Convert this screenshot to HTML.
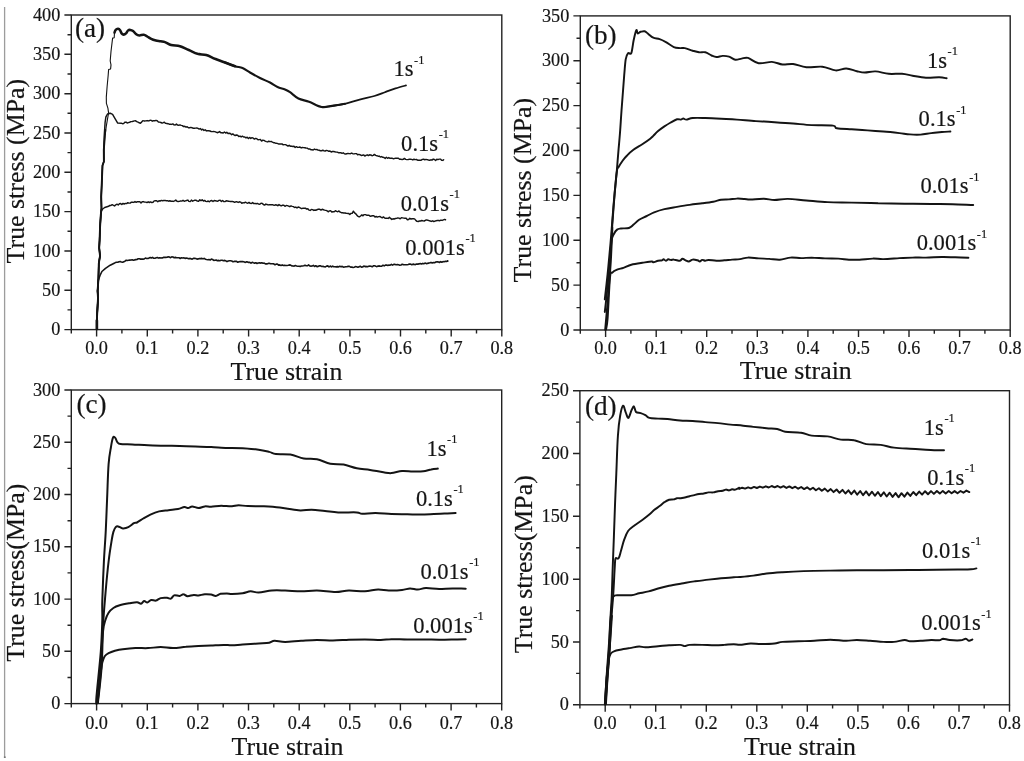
<!DOCTYPE html>
<html lang="en"><head><meta charset="utf-8"><title>True stress-strain curves</title>
<style>html,body{margin:0;padding:0;background:#fff}body{width:1024px;height:761px;overflow:hidden}svg{display:block;filter:blur(0.45px)}</style>
</head><body>
<svg width="1024" height="761" viewBox="0 0 1024 761" font-family="'Liberation Serif', serif" fill="#141414" stroke="#141414" stroke-width="0.18" paint-order="stroke">
<rect width="1024" height="761" fill="#ffffff" stroke="none"/>
<line x1="4.6" y1="7" x2="4.6" y2="757.8" stroke="#9c9c9c" stroke-width="1.3"/>
<rect x="3.9" y="756.5" width="1.8" height="1.4" fill="#6f6f6f" stroke="none"/>
<g id="panel-a">
<rect x="71.3" y="15.0" width="430.5" height="314.6" fill="none" stroke="#222222" stroke-width="1.40"/>
<text x="96.6" y="354.2" font-size="18.2" text-anchor="middle" >0.0</text>
<text x="147.3" y="354.2" font-size="18.2" text-anchor="middle" >0.1</text>
<text x="197.9" y="354.2" font-size="18.2" text-anchor="middle" >0.2</text>
<text x="248.6" y="354.2" font-size="18.2" text-anchor="middle" >0.3</text>
<text x="299.2" y="354.2" font-size="18.2" text-anchor="middle" >0.4</text>
<text x="349.9" y="354.2" font-size="18.2" text-anchor="middle" >0.5</text>
<text x="400.5" y="354.2" font-size="18.2" text-anchor="middle" >0.6</text>
<text x="451.2" y="354.2" font-size="18.2" text-anchor="middle" >0.7</text>
<text x="501.8" y="354.2" font-size="18.2" text-anchor="middle" >0.8</text>
<text x="60.3" y="335.2" font-size="18.2" text-anchor="end" >0</text>
<text x="60.3" y="295.9" font-size="18.2" text-anchor="end" >50</text>
<text x="60.3" y="256.6" font-size="18.2" text-anchor="end" >100</text>
<text x="60.3" y="217.2" font-size="18.2" text-anchor="end" >150</text>
<text x="60.3" y="177.9" font-size="18.2" text-anchor="end" >200</text>
<text x="60.3" y="138.6" font-size="18.2" text-anchor="end" >250</text>
<text x="60.3" y="99.2" font-size="18.2" text-anchor="end" >300</text>
<text x="60.3" y="59.9" font-size="18.2" text-anchor="end" >350</text>
<text x="60.3" y="20.6" font-size="18.2" text-anchor="end" >400</text>
<path d="M71.3 329.6v3.8 M96.6 329.6v6.9 M121.9 329.6v3.8 M147.3 329.6v6.9 M172.6 329.6v3.8 M197.9 329.6v6.9 M223.2 329.6v3.8 M248.6 329.6v6.9 M273.9 329.6v3.8 M299.2 329.6v6.9 M324.5 329.6v3.8 M349.9 329.6v6.9 M375.2 329.6v3.8 M400.5 329.6v6.9 M425.8 329.6v3.8 M451.2 329.6v6.9 M476.5 329.6v3.8 M501.8 329.6v6.9 M71.3 329.6h-6.9 M71.3 309.9h-3.8 M71.3 290.3h-6.9 M71.3 270.6h-3.8 M71.3 251.0h-6.9 M71.3 231.3h-3.8 M71.3 211.6h-6.9 M71.3 192.0h-3.8 M71.3 172.3h-6.9 M71.3 152.6h-3.8 M71.3 133.0h-6.9 M71.3 113.3h-3.8 M71.3 93.7h-6.9 M71.3 74.0h-3.8 M71.3 54.3h-6.9 M71.3 34.7h-3.8 M71.3 15.0h-6.9" stroke="#222222" stroke-width="1.40" fill="none"/>
<text x="75.0" y="37.1" font-size="27.2" text-anchor="start" >(a)</text>
<text x="286.5" y="379.8" font-size="25.9" text-anchor="middle" >True strain</text>
<text transform="translate(24.2 171.1) rotate(-90)" font-size="25.9" text-anchor="middle">True stress (MPa)</text>
</g>
<g id="panel-b">
<rect x="580.3" y="15.9" width="429.9" height="314.1" fill="none" stroke="#222222" stroke-width="1.40"/>
<text x="605.6" y="354.3" font-size="18.2" text-anchor="middle" >0.0</text>
<text x="656.2" y="354.3" font-size="18.2" text-anchor="middle" >0.1</text>
<text x="706.7" y="354.3" font-size="18.2" text-anchor="middle" >0.2</text>
<text x="757.3" y="354.3" font-size="18.2" text-anchor="middle" >0.3</text>
<text x="807.9" y="354.3" font-size="18.2" text-anchor="middle" >0.4</text>
<text x="858.5" y="354.3" font-size="18.2" text-anchor="middle" >0.5</text>
<text x="909.0" y="354.3" font-size="18.2" text-anchor="middle" >0.6</text>
<text x="959.6" y="354.3" font-size="18.2" text-anchor="middle" >0.7</text>
<text x="1010.2" y="354.3" font-size="18.2" text-anchor="middle" >0.8</text>
<text x="569.3" y="335.6" font-size="18.2" text-anchor="end" >0</text>
<text x="569.3" y="290.7" font-size="18.2" text-anchor="end" >50</text>
<text x="569.3" y="245.9" font-size="18.2" text-anchor="end" >100</text>
<text x="569.3" y="201.0" font-size="18.2" text-anchor="end" >150</text>
<text x="569.3" y="156.1" font-size="18.2" text-anchor="end" >200</text>
<text x="569.3" y="111.2" font-size="18.2" text-anchor="end" >250</text>
<text x="569.3" y="66.4" font-size="18.2" text-anchor="end" >300</text>
<text x="569.3" y="21.5" font-size="18.2" text-anchor="end" >350</text>
<path d="M580.3 330.0v3.8 M605.6 330.0v6.9 M630.9 330.0v3.8 M656.2 330.0v6.9 M681.5 330.0v3.8 M706.7 330.0v6.9 M732.0 330.0v3.8 M757.3 330.0v6.9 M782.6 330.0v3.8 M807.9 330.0v6.9 M833.2 330.0v3.8 M858.5 330.0v6.9 M883.8 330.0v3.8 M909.0 330.0v6.9 M934.3 330.0v3.8 M959.6 330.0v6.9 M984.9 330.0v3.8 M1010.2 330.0v6.9 M580.3 330.0h-6.9 M580.3 307.6h-3.8 M580.3 285.1h-6.9 M580.3 262.7h-3.8 M580.3 240.3h-6.9 M580.3 217.8h-3.8 M580.3 195.4h-6.9 M580.3 172.9h-3.8 M580.3 150.5h-6.9 M580.3 128.1h-3.8 M580.3 105.6h-6.9 M580.3 83.2h-3.8 M580.3 60.8h-6.9 M580.3 38.3h-3.8 M580.3 15.9h-6.9" stroke="#222222" stroke-width="1.40" fill="none"/>
<text x="584.9" y="44.1" font-size="27.2" text-anchor="start" >(b)</text>
<text x="795.8" y="379.3" font-size="25.9" text-anchor="middle" >True strain</text>
<text transform="translate(531.4 190.1) rotate(-90)" font-size="25.9" text-anchor="middle">True stress (MPa)</text>
</g>
<g id="panel-c">
<rect x="71.3" y="390.0" width="430.4" height="313.6" fill="none" stroke="#222222" stroke-width="1.40"/>
<text x="96.6" y="729.0" font-size="18.2" text-anchor="middle" >0.0</text>
<text x="147.3" y="729.0" font-size="18.2" text-anchor="middle" >0.1</text>
<text x="197.9" y="729.0" font-size="18.2" text-anchor="middle" >0.2</text>
<text x="248.5" y="729.0" font-size="18.2" text-anchor="middle" >0.3</text>
<text x="299.2" y="729.0" font-size="18.2" text-anchor="middle" >0.4</text>
<text x="349.8" y="729.0" font-size="18.2" text-anchor="middle" >0.5</text>
<text x="400.4" y="729.0" font-size="18.2" text-anchor="middle" >0.6</text>
<text x="451.1" y="729.0" font-size="18.2" text-anchor="middle" >0.7</text>
<text x="501.7" y="729.0" font-size="18.2" text-anchor="middle" >0.8</text>
<text x="60.3" y="709.2" font-size="18.2" text-anchor="end" >0</text>
<text x="60.3" y="656.9" font-size="18.2" text-anchor="end" >50</text>
<text x="60.3" y="604.7" font-size="18.2" text-anchor="end" >100</text>
<text x="60.3" y="552.4" font-size="18.2" text-anchor="end" >150</text>
<text x="60.3" y="500.1" font-size="18.2" text-anchor="end" >200</text>
<text x="60.3" y="447.9" font-size="18.2" text-anchor="end" >250</text>
<text x="60.3" y="395.6" font-size="18.2" text-anchor="end" >300</text>
<path d="M71.3 703.6v3.8 M96.6 703.6v6.9 M121.9 703.6v3.8 M147.3 703.6v6.9 M172.6 703.6v3.8 M197.9 703.6v6.9 M223.2 703.6v3.8 M248.5 703.6v6.9 M273.8 703.6v3.8 M299.2 703.6v6.9 M324.5 703.6v3.8 M349.8 703.6v6.9 M375.1 703.6v3.8 M400.4 703.6v6.9 M425.7 703.6v3.8 M451.1 703.6v6.9 M476.4 703.6v3.8 M501.7 703.6v6.9 M71.3 703.6h-6.9 M71.3 677.5h-3.8 M71.3 651.3h-6.9 M71.3 625.2h-3.8 M71.3 599.1h-6.9 M71.3 572.9h-3.8 M71.3 546.8h-6.9 M71.3 520.7h-3.8 M71.3 494.5h-6.9 M71.3 468.4h-3.8 M71.3 442.3h-6.9 M71.3 416.1h-3.8 M71.3 390.0h-6.9" stroke="#222222" stroke-width="1.40" fill="none"/>
<text x="76.5" y="413.4" font-size="27.2" text-anchor="start" >(c)</text>
<text x="287.6" y="755.3" font-size="25.9" text-anchor="middle" >True strain</text>
<text transform="translate(23.5 572.6) rotate(-90)" font-size="25.9" text-anchor="middle">True stress(MPa)</text>
</g>
<g id="panel-d">
<rect x="579.9" y="390.7" width="429.6" height="314.1" fill="none" stroke="#222222" stroke-width="1.40"/>
<text x="605.2" y="729.4" font-size="18.2" text-anchor="middle" >0.0</text>
<text x="655.7" y="729.4" font-size="18.2" text-anchor="middle" >0.1</text>
<text x="706.3" y="729.4" font-size="18.2" text-anchor="middle" >0.2</text>
<text x="756.8" y="729.4" font-size="18.2" text-anchor="middle" >0.3</text>
<text x="807.3" y="729.4" font-size="18.2" text-anchor="middle" >0.4</text>
<text x="857.9" y="729.4" font-size="18.2" text-anchor="middle" >0.5</text>
<text x="908.4" y="729.4" font-size="18.2" text-anchor="middle" >0.6</text>
<text x="959.0" y="729.4" font-size="18.2" text-anchor="middle" >0.7</text>
<text x="1009.5" y="729.4" font-size="18.2" text-anchor="middle" >0.8</text>
<text x="568.9" y="710.4" font-size="18.2" text-anchor="end" >0</text>
<text x="568.9" y="647.6" font-size="18.2" text-anchor="end" >50</text>
<text x="568.9" y="584.8" font-size="18.2" text-anchor="end" >100</text>
<text x="568.9" y="521.9" font-size="18.2" text-anchor="end" >150</text>
<text x="568.9" y="459.1" font-size="18.2" text-anchor="end" >200</text>
<text x="568.9" y="396.3" font-size="18.2" text-anchor="end" >250</text>
<path d="M579.9 704.8v3.8 M605.2 704.8v6.9 M630.4 704.8v3.8 M655.7 704.8v6.9 M681.0 704.8v3.8 M706.3 704.8v6.9 M731.5 704.8v3.8 M756.8 704.8v6.9 M782.1 704.8v3.8 M807.3 704.8v6.9 M832.6 704.8v3.8 M857.9 704.8v6.9 M883.1 704.8v3.8 M908.4 704.8v6.9 M933.7 704.8v3.8 M959.0 704.8v6.9 M984.2 704.8v3.8 M1009.5 704.8v6.9 M579.9 704.8h-6.9 M579.9 673.4h-3.8 M579.9 642.0h-6.9 M579.9 610.6h-3.8 M579.9 579.2h-6.9 M579.9 547.8h-3.8 M579.9 516.3h-6.9 M579.9 484.9h-3.8 M579.9 453.5h-6.9 M579.9 422.1h-3.8 M579.9 390.7h-6.9" stroke="#222222" stroke-width="1.40" fill="none"/>
<text x="584.9" y="415.2" font-size="27.2" text-anchor="start" >(d)</text>
<text x="800.1" y="755.3" font-size="25.9" text-anchor="middle" >True strain</text>
<text transform="translate(531.8 564.2) rotate(-90)" font-size="25.9" text-anchor="middle">True stress(MPa)</text>
</g>
<polyline points="96.8,329.0 96.8,321.5 97.6,305.8 98.0,298.0 97.6,291.0 98.4,279.4 98.8,263.6 100.0,255.8 99.2,247.9 99.6,240.0 100.0,228.3 100.8,214.9 101.5,208.6 101.2,196.8 101.7,185.0 102.5,165.5 103.9,161.5 103.8,149.7 105.3,130.0 105.1,134.9 106.3,126.2 107.5,119.1 108.6,112.8 107.9,108.1 106.4,103.4 106.3,97.1 107.1,86.8 108.2,75.0 108.6,69.6 110.6,68.9 111.0,64.9 110.2,61.0 111.0,51.5 112.6,38.1 114.2,37.7 114.5,32.6" fill="none" stroke="#141414" stroke-width="1.10" stroke-linejoin="round" stroke-linecap="round" />
<polyline points="96.8,329.0 96.8,321.5 97.6,305.8 98.0,298.0 97.6,291.0 98.4,279.4 98.8,263.6 100.0,255.8 99.2,247.9 99.6,240.0 100.0,228.3 100.8,214.9 101.5,208.6 101.2,196.8 101.7,185.0 102.5,165.5 103.9,161.5 103.8,149.7 105.3,130.0" fill="none" stroke="#141414" stroke-width="1.90" stroke-linejoin="round" stroke-linecap="round" />
<path d="M114.5 32.6C114.7 32.1 115.1 30.5 115.7 29.9C116.3 29.2 117.4 28.6 118.1 28.7C118.8 28.8 119.5 29.4 120.1 30.2C120.7 31.0 121.0 32.7 121.6 33.4C122.2 34.1 122.9 34.6 123.6 34.6C124.3 34.6 125.3 34.1 126.0 33.4C126.7 32.7 127.2 31.2 127.9 30.6C128.6 30.0 129.4 29.8 130.3 29.9C131.2 30.0 132.1 30.3 133.1 31.0C134.1 31.7 135.1 33.5 136.2 34.2C137.2 34.9 138.2 35.3 139.4 35.4C140.7 35.5 142.4 34.6 143.7 34.8C145.0 35.0 146.1 35.8 147.3 36.5C148.6 37.2 149.8 38.2 151.2 38.9C152.6 39.6 154.3 40.1 155.9 40.5C157.5 40.9 159.1 41.0 160.6 41.3C162.1 41.6 163.2 41.5 165.0 42.1C166.8 42.7 168.8 44.3 171.2 45.0C173.8 45.7 177.1 45.4 180.0 46.2C182.9 47.1 185.8 48.8 188.8 50.0C191.7 51.2 194.6 52.9 197.5 53.8C200.4 54.6 203.3 54.2 206.2 55.0C209.2 55.8 211.9 57.5 215.0 58.8C218.1 60.0 221.7 61.2 225.0 62.5C228.3 63.8 233.3 65.6 235.0 66.2" fill="none" stroke="#141414" stroke-width="2.55" stroke-linejoin="round" stroke-linecap="round"/>
<path d="M225.0 62.5C226.7 63.1 232.1 65.3 235.0 66.2C237.9 67.2 240.0 67.0 242.5 68.0C245.0 69.0 247.1 70.8 250.0 72.5C252.9 74.2 256.7 76.3 260.0 78.0C263.3 79.7 267.1 81.0 270.0 82.5C272.9 84.0 275.0 85.8 277.5 87.0C280.0 88.2 282.9 88.6 285.0 89.5C287.1 90.4 287.8 90.7 290.0 92.2C292.2 93.7 295.2 96.9 298.4 98.5C301.6 100.1 305.1 100.3 309.0 101.7C312.9 103.1 317.7 106.3 321.6 107.0C325.5 107.7 328.3 106.4 332.2 105.9C336.1 105.4 342.8 104.2 344.9 103.8" fill="none" stroke="#141414" stroke-width="2.10" stroke-linejoin="round" stroke-linecap="round"/>
<path d="M321.6 107.0C323.4 106.8 328.3 106.4 332.2 105.9C336.1 105.4 340.3 104.8 344.9 103.8C349.5 102.8 354.7 100.9 359.6 99.6C364.5 98.3 370.2 97.2 374.4 96.0C378.6 94.8 381.4 93.5 384.9 92.2C388.4 90.9 392.0 89.5 395.5 88.4C399.0 87.3 404.2 85.9 406.0 85.4" fill="none" stroke="#141414" stroke-width="1.75" stroke-linejoin="round" stroke-linecap="round"/>
<polyline points="96.8,329.0 96.8,321.5 97.6,305.8 98.0,298.0 97.6,291.0 98.4,279.4 98.8,263.6 100.0,255.8 99.2,247.9 99.6,240.0 100.0,228.3 100.8,214.9 101.5,208.6 101.2,196.8 101.7,185.0 102.5,165.5 103.9,161.5 103.8,149.7 104.3,134.9 105.1,122.3 105.9,116.8 107.5,114.0 110.2,113.2 112.6,114.4 114.9,118.3 117.7,123.1 121.2,123.2 122.4,123.7 123.6,123.6 124.8,122.2 126.0,122.1 127.2,123.0 128.4,122.6 129.6,122.3 130.8,121.6 132.0,121.6 133.2,121.2 134.4,120.9 135.6,120.8 136.8,121.7 138.0,122.2 139.2,122.8 140.4,123.2 141.6,122.1 142.8,120.8 144.0,120.9 145.2,120.9 146.4,120.8 147.6,120.6 148.8,120.9 150.0,120.3 151.2,120.4 152.4,121.2 153.6,120.7 154.8,120.8 156.0,120.4 157.2,120.8 158.4,122.0 159.6,122.1 160.8,122.5 162.0,123.0 163.2,122.7 164.4,122.2 165.6,123.4 166.8,123.5 168.0,123.7 169.2,124.2 170.4,124.2 171.6,124.4 172.8,123.9 174.0,124.9 175.2,125.0 176.4,124.1 177.6,125.1 178.8,125.2 180.0,124.9 181.2,125.4 182.4,125.6 183.6,126.6 184.8,126.3 186.0,127.1 187.2,126.7 188.4,127.7 189.6,127.8 190.8,127.4 192.0,127.7 193.2,128.3 194.4,128.2 195.6,128.1 196.8,128.0 198.0,128.4 199.2,129.1 200.4,128.6 201.6,129.9 202.8,129.2 204.0,130.4 205.2,129.8 206.4,130.9 207.6,130.8 208.8,130.8 210.0,131.0 211.2,131.5 212.4,131.6 213.6,131.5 214.8,131.6 216.0,132.1 217.2,132.7 218.4,132.3 219.6,131.6 220.8,132.7 222.0,132.7 223.2,133.0 224.4,132.0 225.6,133.0 226.8,132.3 228.0,133.5 229.2,133.2 230.4,133.5 231.6,134.7 232.8,133.9 234.0,134.8 235.2,135.5 236.4,135.0 237.6,135.2 238.8,136.5 240.0,136.1 241.2,136.9 242.4,136.2 243.6,137.0 244.8,137.0 246.0,137.9 247.2,137.2 248.4,138.6 249.6,137.4 250.8,138.5 252.0,137.7 253.2,138.2 254.4,139.1 255.6,138.4 256.8,138.8 258.0,139.8 259.2,139.6 260.4,139.5 261.6,141.1 262.8,140.2 264.0,140.4 265.2,141.1 266.4,141.6 267.6,141.9 268.8,141.2 270.0,141.6 271.2,141.4 272.4,142.1 273.6,142.7 274.8,142.8 276.0,143.3 277.2,143.4 278.4,143.9 279.6,143.9 280.8,143.9 282.0,143.9 283.2,144.8 284.4,144.6 285.6,144.6 286.8,145.3 288.0,146.1 289.2,145.3 290.4,146.2 291.6,146.1 292.8,146.5 294.0,146.2 295.2,147.5 296.4,146.7 297.6,147.4 298.8,147.3 300.0,147.0 301.2,147.9 302.4,147.5 303.6,147.6 304.8,147.7 306.0,148.0 307.2,148.1 308.4,149.0 309.6,148.9 310.8,149.7 312.0,149.8 313.2,150.0 314.4,149.1 315.6,149.6 316.8,149.5 318.0,150.1 319.2,150.3 320.4,150.7 321.6,150.7 322.8,150.3 324.0,150.7 325.2,151.0 326.4,150.4 327.6,150.6 328.8,151.3 330.0,151.0 331.2,152.0 332.4,151.5 333.6,151.5 334.8,151.8 336.0,152.0 337.2,152.1 338.4,152.7 339.6,152.8 340.8,152.7 342.0,153.3 343.2,152.8 344.4,153.8 345.6,154.0 346.8,153.7 348.0,153.4 349.2,153.6 350.4,153.7 351.6,153.1 352.8,153.7 354.0,153.9 355.2,153.6 356.4,153.6 357.6,154.8 358.8,154.4 360.0,154.7 361.2,155.5 362.4,155.2 363.6,154.9 364.8,156.0 366.0,155.3 367.2,154.8 368.4,155.6 369.6,154.8 370.8,155.0 372.0,155.7 373.2,155.4 374.4,154.4 375.6,155.4 376.8,155.7 378.0,156.2 379.2,156.1 380.4,157.0 381.6,156.6 382.8,157.3 384.0,157.5 385.2,158.4 386.4,157.3 387.6,158.3 388.8,157.6 390.0,158.3 391.2,158.1 392.4,158.3 393.6,158.8 394.8,158.4 396.0,158.1 397.2,158.2 398.4,158.2 399.6,159.3 400.8,159.1 402.0,159.6 403.2,159.3 404.4,158.4 405.6,159.4 406.8,159.6 408.0,159.6 409.2,159.3 410.4,159.2 411.6,159.4 412.8,159.9 414.0,159.2 415.2,159.6 416.4,159.5 417.6,160.2 418.8,160.1 420.0,160.3 421.2,160.2 422.4,159.4 423.6,159.3 424.8,159.7 426.0,159.4 427.2,159.6 428.4,160.0 429.6,160.3 430.8,159.8 432.0,160.1 433.2,159.1 434.4,159.5 435.6,160.4 436.8,159.2 438.0,159.6 439.2,159.1 440.4,159.1 441.6,160.3 442.8,160.4 443.6,159.7" fill="none" stroke="#141414" stroke-width="1.45" stroke-linejoin="round" stroke-linecap="round" />
<polyline points="96.8,329.0 96.8,321.5 97.6,305.8 98.0,298.0 97.6,291.0 98.4,279.4 98.8,263.6 100.0,255.8 99.2,247.9 99.6,240.0 100.0,228.3 100.8,214.9 101.5,208.6 101.5,211.0 102.7,209.0 104.7,207.5 108.6,206.3 109.8,205.4 111.0,205.4 112.2,204.7 113.4,205.3 114.6,205.9 115.8,204.8 117.0,204.2 118.2,205.0 119.4,203.8 120.6,203.5 121.8,204.5 123.0,203.4 124.2,204.0 125.4,203.4 126.6,203.6 127.8,202.7 129.0,203.1 130.2,203.1 131.4,202.2 132.6,202.3 133.8,202.4 135.0,201.6 136.2,202.3 137.4,201.7 138.6,201.7 139.8,201.8 141.0,202.9 142.2,201.7 143.4,201.6 144.6,202.1 145.8,202.1 147.0,202.6 148.2,201.8 149.4,202.5 150.6,201.9 151.8,202.6 153.0,202.3 154.2,200.9 155.4,200.8 156.6,200.7 157.8,201.8 159.0,200.8 160.2,201.0 161.4,200.4 162.6,200.7 163.8,200.5 165.0,200.4 166.2,200.7 167.4,200.7 168.6,201.2 169.8,200.8 171.0,201.2 172.2,201.1 173.4,201.4 174.6,200.9 175.8,200.1 177.0,201.3 178.2,201.5 179.4,201.4 180.6,200.9 181.8,201.1 183.0,200.3 184.2,201.3 185.4,200.9 186.6,200.5 187.8,200.1 189.0,201.4 190.2,201.6 191.4,200.1 192.6,201.2 193.8,200.6 195.0,200.1 196.2,200.3 197.4,201.1 198.6,201.2 199.8,199.8 201.0,200.7 202.2,199.8 203.4,201.0 204.6,200.4 205.8,201.4 207.0,201.6 208.2,201.0 209.4,201.8 210.6,200.8 211.8,200.5 213.0,201.5 214.2,200.5 215.4,200.7 216.6,201.0 217.8,201.2 219.0,200.4 220.2,200.2 221.4,201.4 222.6,200.5 223.8,201.6 225.0,201.6 226.2,200.8 227.4,201.0 228.6,201.2 229.8,201.4 231.0,201.4 232.2,201.4 233.4,201.7 234.6,202.3 235.8,201.8 237.0,201.8 238.2,202.4 239.4,201.8 240.6,202.1 241.8,203.3 243.0,202.7 244.2,202.9 245.4,202.2 246.6,202.9 247.8,203.2 249.0,202.4 250.2,203.4 251.4,203.5 252.6,202.6 253.8,203.6 255.0,203.4 256.2,203.8 257.4,203.4 258.6,204.1 259.8,204.2 261.0,203.2 262.2,203.4 263.4,204.5 264.6,205.1 265.8,204.1 267.0,204.5 268.2,204.9 269.4,204.6 270.6,204.7 271.8,204.7 273.0,204.8 274.2,205.3 275.4,204.8 276.6,205.0 277.8,205.7 279.0,204.6 280.2,205.5 281.4,205.8 282.6,205.2 283.8,205.2 285.0,206.3 286.2,205.5 287.4,205.6 288.6,206.1 289.8,206.7 291.0,205.9 292.2,206.4 293.4,206.6 294.6,207.5 295.8,207.1 297.0,207.9 298.2,207.0 299.4,207.4 300.6,208.1 301.8,208.7 303.0,208.2 304.2,208.1 305.4,208.2 306.6,209.1 307.8,208.8 309.0,210.1 310.2,210.4 311.4,209.5 312.6,209.6 313.8,210.4 315.0,210.0 316.2,210.2 317.4,209.5 318.6,209.1 319.8,209.3 321.0,210.0 322.2,209.3 323.4,209.7 324.6,210.1 325.8,210.4 327.0,210.7 328.2,211.8 329.4,210.9 330.6,210.7 331.8,212.0 333.0,211.7 334.2,211.7 335.4,210.7 336.6,211.4 337.8,211.7 339.0,211.0 340.2,212.2 341.4,212.7 342.6,212.8 343.8,213.0 345.0,213.0 346.2,213.3 347.4,213.4 348.6,213.4 349.8,214.5 351.0,213.4 352.2,213.3 353.4,211.2 354.6,212.9 355.8,213.8 357.0,215.4 358.2,216.5 359.4,216.8 360.6,216.0 361.8,214.9 363.0,215.8 364.2,214.6 365.4,214.6 366.6,215.2 367.8,215.2 369.0,215.2 370.2,216.3 371.4,216.0 372.6,215.7 373.8,215.8 375.0,217.0 376.2,216.5 377.4,217.1 378.6,216.6 379.8,216.5 381.0,217.2 382.2,217.8 383.4,216.9 384.6,218.0 385.8,218.3 387.0,218.2 388.2,218.4 389.4,217.2 390.6,218.4 391.8,219.4 393.0,218.8 394.2,219.0 395.4,218.5 396.6,218.4 397.8,217.9 399.0,218.1 400.2,218.8 401.4,217.7 402.6,217.9 403.8,218.1 405.0,218.3 406.2,218.3 407.4,219.8 408.6,219.6 409.8,218.3 411.0,219.0 412.2,218.7 413.4,218.7 414.6,218.9 415.8,220.4 417.0,221.4 418.2,221.5 419.4,221.0 420.6,221.0 421.8,220.5 423.0,220.9 424.2,221.0 425.4,220.3 426.6,219.9 427.8,220.2 429.0,220.6 430.2,221.0 431.4,221.4 432.6,220.8 433.8,221.5 435.0,221.1 436.2,220.7 437.4,220.4 438.6,220.5 439.8,220.7 441.0,220.1 442.2,220.4 443.4,219.9 444.6,219.4 445.5,219.7" fill="none" stroke="#141414" stroke-width="1.45" stroke-linejoin="round" stroke-linecap="round" />
<polyline points="96.8,329.0 96.8,321.5 97.6,305.8 98.0,298.0 97.6,291.0 98.4,279.4 98.6,279.4 100.0,275.5 101.9,271.5 105.5,268.4 110.2,265.2 114.2,263.2 115.4,262.6 116.6,262.2 117.8,262.2 119.0,261.7 120.2,261.6 121.4,262.0 122.6,262.3 123.8,261.7 125.0,261.2 126.2,260.2 127.4,260.5 128.6,260.3 129.8,260.1 131.0,260.0 132.2,259.8 133.4,260.3 134.6,259.9 135.8,259.6 137.0,259.5 138.2,258.8 139.4,258.8 140.6,259.1 141.8,259.1 143.0,259.1 144.2,259.0 145.4,258.0 146.6,258.5 147.8,258.4 149.0,258.1 150.2,257.6 151.4,257.9 152.6,257.4 153.8,258.3 155.0,258.2 156.2,257.8 157.4,257.5 158.6,258.1 159.8,257.7 161.0,258.0 162.2,257.9 163.4,257.4 164.6,257.3 165.8,257.4 167.0,257.2 168.2,256.9 169.4,257.0 170.6,257.7 171.8,256.9 173.0,257.0 174.2,257.7 175.4,257.4 176.6,257.7 177.8,257.7 179.0,257.7 180.2,258.5 181.4,257.7 182.6,258.0 183.8,257.8 185.0,258.4 186.2,258.1 187.4,258.3 188.6,258.8 189.8,258.4 191.0,258.7 192.2,259.2 193.4,258.4 194.6,258.3 195.8,258.5 197.0,259.1 198.2,258.9 199.4,258.5 200.6,258.6 201.8,258.4 203.0,258.8 204.2,258.4 205.4,259.2 206.6,259.5 207.8,259.7 209.0,259.6 210.2,260.0 211.4,259.1 212.6,259.5 213.8,260.4 215.0,260.3 216.2,260.0 217.4,260.7 218.6,260.4 219.8,260.8 221.0,260.3 222.2,260.3 223.4,260.7 224.6,260.4 225.8,260.8 227.0,261.6 228.2,261.0 229.4,260.7 230.6,260.8 231.8,261.0 233.0,261.8 234.2,261.4 235.4,261.4 236.6,261.3 237.8,262.3 239.0,261.8 240.2,261.6 241.4,261.5 242.6,261.6 243.8,261.8 245.0,262.4 246.2,261.9 247.4,261.9 248.6,262.4 249.8,262.3 251.0,263.2 252.2,262.3 253.4,262.8 254.6,263.1 255.8,262.8 257.0,263.5 258.2,263.0 259.4,262.8 260.6,263.1 261.8,262.7 263.0,263.2 264.2,263.1 265.4,263.9 266.6,263.9 267.8,263.6 269.0,263.2 270.2,263.6 271.4,263.7 272.6,263.8 273.8,263.9 275.0,264.8 276.2,264.1 277.4,264.1 278.6,265.2 279.8,264.9 281.0,265.4 282.2,264.9 283.4,265.5 284.6,265.3 285.8,265.5 287.0,265.5 288.2,265.3 289.4,264.9 290.6,265.1 291.8,265.9 293.0,266.0 294.2,266.1 295.4,265.6 296.6,266.0 297.8,266.2 299.0,266.2 300.2,266.4 301.4,266.0 302.6,266.0 303.8,265.8 305.0,265.2 306.2,265.8 307.4,265.8 308.6,264.9 309.8,266.0 311.0,266.1 312.2,266.0 313.4,265.4 314.6,266.5 315.8,265.7 317.0,266.7 318.2,266.4 319.4,265.7 320.6,265.9 321.8,266.5 323.0,266.4 324.2,266.7 325.4,266.9 326.6,266.1 327.8,265.9 329.0,267.0 330.2,266.0 331.4,266.9 332.6,266.1 333.8,266.8 335.0,266.8 336.2,266.9 337.4,266.6 338.6,266.9 339.8,266.2 341.0,266.7 342.2,266.4 343.4,267.1 344.6,267.0 345.8,266.7 347.0,266.8 348.2,266.3 349.4,266.4 350.6,267.1 351.8,267.0 353.0,267.5 354.2,267.2 355.4,266.6 356.6,266.8 357.8,267.2 359.0,266.9 360.2,266.2 361.4,267.1 362.6,267.0 363.8,266.1 365.0,266.6 366.2,266.4 367.4,266.8 368.6,266.2 369.8,266.1 371.0,266.3 372.2,266.8 373.4,265.8 374.6,265.8 375.8,266.3 377.0,266.6 378.2,266.1 379.4,265.9 380.6,266.3 381.8,266.1 383.0,265.2 384.2,265.9 385.4,265.1 386.6,265.1 387.8,265.5 389.0,265.0 390.2,265.2 391.4,264.4 392.6,265.2 393.8,264.4 395.0,264.4 396.2,264.8 397.4,264.6 398.6,264.8 399.8,265.2 401.0,265.0 402.2,264.3 403.4,264.6 404.6,264.8 405.8,264.7 407.0,264.8 408.2,264.5 409.4,264.0 410.6,264.1 411.8,264.7 413.0,264.1 414.2,264.4 415.4,264.6 416.6,264.1 417.8,264.1 419.0,263.9 420.2,263.5 421.4,264.0 422.6,263.4 423.8,263.8 425.0,263.1 426.2,263.6 427.4,263.4 428.6,263.1 429.8,262.8 431.0,262.4 432.2,263.0 433.4,262.5 434.6,262.7 435.8,262.0 437.0,261.9 438.2,261.9 439.4,262.5 440.6,261.6 441.8,262.3 443.0,261.6 444.2,261.7 445.4,261.3 446.6,261.5 447.8,260.8 447.8,261.2" fill="none" stroke="#141414" stroke-width="1.60" stroke-linejoin="round" stroke-linecap="round" />
<text transform="translate(393.4 76.4) scale(0.940 1)" font-size="24.0">1s<tspan dy="-12.6" dx="0.6" font-size="13.2">-1</tspan></text>
<text transform="translate(401.1 150.8) scale(0.940 1)" font-size="24.0">0.1s<tspan dy="-12.6" dx="0.6" font-size="13.2">-1</tspan></text>
<text transform="translate(400.7 210.6) scale(0.940 1)" font-size="24.0">0.01s<tspan dy="-12.6" dx="0.6" font-size="13.2">-1</tspan></text>
<text transform="translate(405.3 254.9) scale(0.940 1)" font-size="24.0">0.001s<tspan dy="-12.6" dx="0.6" font-size="13.2">-1</tspan></text>
<polyline points="96.9,320.5 96.9,329.0" fill="none" stroke="#141414" stroke-width="2.60" stroke-linejoin="round" stroke-linecap="round" />
<path d="M605.2 329.6C605.7 323.5 607.5 304.4 608.4 293.0C609.3 281.6 610.1 272.0 610.8 261.5C611.4 251.0 612.0 236.2 612.3 230.0C612.5 223.8 611.9 230.8 612.3 224.6C612.7 218.4 614.0 202.0 614.7 193.1C615.5 184.2 616.1 178.4 616.8 171.0C617.4 163.6 618.0 155.7 618.6 148.9C619.2 142.1 619.7 137.0 620.2 130.0C620.7 123.0 621.1 115.8 621.8 106.7C622.5 97.6 623.6 83.1 624.2 75.2C624.9 67.3 625.1 63.1 625.7 59.4C626.4 55.7 627.2 54.1 628.1 53.1C629.0 52.1 630.4 55.2 631.3 53.1C632.2 51.0 632.8 44.3 633.6 40.5C634.4 36.7 635.6 31.4 636.3 30.2C637.0 29.0 636.9 33.1 637.6 33.4C638.3 33.7 639.5 32.1 640.7 31.8C641.9 31.5 643.4 30.9 644.7 31.3C646.0 31.7 647.2 33.1 648.6 34.2C650.0 35.3 651.5 36.9 653.3 37.7C655.1 38.5 657.5 38.5 659.6 39.2C661.7 39.9 663.5 40.8 665.9 42.1C668.3 43.4 671.4 46.1 673.8 47.1C676.2 48.1 678.3 47.9 680.1 48.1C681.9 48.3 682.7 47.7 684.8 48.1C686.9 48.5 690.3 50.0 692.7 50.7C695.1 51.4 696.9 52.0 699.0 52.3C701.1 52.6 703.2 51.8 705.3 52.3C707.4 52.8 709.8 54.7 711.6 55.5C713.5 56.3 714.5 56.9 716.4 57.0C718.2 57.1 720.6 56.0 722.7 55.9C724.8 55.8 726.9 56.0 729.0 56.6C731.1 57.2 733.2 59.4 735.3 59.7C737.4 60.0 739.5 58.9 741.6 58.6C743.7 58.3 745.2 57.1 748.0 57.9C750.8 58.7 754.6 62.5 758.6 63.2C762.6 63.9 767.9 61.7 771.9 61.9C775.9 62.1 779.0 64.2 782.5 64.5C786.0 64.8 789.1 63.5 793.1 64.0C797.1 64.5 801.5 66.8 806.4 67.2C811.3 67.7 817.4 66.2 822.3 66.7C827.2 67.2 831.6 70.1 835.6 70.4C839.6 70.7 842.7 68.4 846.2 68.5C849.8 68.6 853.8 70.5 856.9 71.2C860.0 71.9 861.7 72.5 864.8 72.5C867.9 72.5 871.5 71.2 875.5 71.4C879.5 71.6 884.3 73.4 888.7 73.8C893.1 74.2 898.0 73.5 902.0 73.8C906.0 74.1 908.6 75.0 912.6 75.7C916.6 76.4 921.5 77.5 925.9 77.8C930.3 78.1 935.8 77.2 939.2 77.3C942.7 77.4 945.4 78.1 946.6 78.3" fill="none" stroke="#141414" stroke-width="1.95" stroke-linejoin="round" stroke-linecap="round"/>
<path d="M604.8 299.4C605.3 295.2 606.7 282.5 607.6 274.1C608.5 265.7 609.3 256.2 610.0 248.9C610.7 241.6 610.9 238.2 611.6 230.0C612.3 221.8 613.1 209.7 614.0 200.0C614.9 190.3 616.0 177.3 616.8 171.8C617.6 166.3 617.6 168.8 618.6 167.0C619.6 165.2 621.2 162.7 622.6 160.7C624.0 158.7 625.6 156.9 627.3 155.2C629.0 153.4 630.3 152.0 632.8 150.2C635.3 148.4 639.4 146.1 642.3 144.2C645.2 142.3 648.4 140.1 650.2 138.7C652.0 137.3 652.0 137.2 653.3 135.9C654.6 134.6 656.2 132.7 658.1 131.1C660.0 129.5 662.3 127.8 664.4 126.4C666.5 125.0 668.6 123.7 670.7 122.5C672.8 121.3 675.3 119.8 677.0 119.3C678.7 118.8 679.9 119.7 680.9 119.6C681.9 119.5 682.4 118.5 683.3 118.5C684.2 118.5 684.8 119.7 686.4 119.6C688.0 119.5 689.6 118.3 692.7 118.0C695.9 117.7 700.6 117.9 705.3 118.0C710.0 118.1 715.8 118.4 721.1 118.7C726.4 119.0 731.1 119.2 736.9 119.6C742.7 120.0 749.6 120.7 755.9 121.1C762.2 121.5 768.3 121.8 774.5 122.2C780.7 122.6 786.9 123.0 793.1 123.5C799.3 124.0 805.1 124.8 811.7 125.1C818.4 125.4 828.8 125.1 833.0 125.6C837.2 126.1 833.8 127.7 836.9 128.3C840.0 128.9 846.5 129.0 851.6 129.3C856.7 129.7 862.2 130.0 867.5 130.4C872.8 130.8 878.1 131.1 883.4 131.5C888.7 131.9 895.0 132.6 899.4 133.1C903.8 133.6 906.5 134.2 910.0 134.4C913.5 134.7 917.1 134.8 920.6 134.6C924.1 134.4 927.7 133.5 931.2 133.1C934.8 132.7 938.7 132.3 941.9 132.0C945.1 131.7 949.0 131.6 950.4 131.5" fill="none" stroke="#141414" stroke-width="1.95" stroke-linejoin="round" stroke-linecap="round"/>
<path d="M604.8 312.0C605.2 308.3 606.4 298.3 607.2 290.0C608.0 281.7 608.9 270.3 609.6 262.0C610.3 253.7 610.9 245.0 611.6 240.3C612.3 235.6 613.0 235.8 613.9 234.0C614.8 232.2 615.9 230.5 617.1 229.6C618.3 228.7 619.0 228.8 621.0 228.5C623.0 228.2 626.8 228.7 628.9 228.0C631.0 227.3 631.9 226.0 633.6 224.6C635.3 223.2 636.9 221.2 639.1 219.8C641.3 218.4 644.5 217.2 647.0 215.9C649.5 214.7 651.2 213.4 654.1 212.3C657.0 211.2 660.6 210.0 664.4 209.1C668.2 208.2 672.8 207.6 677.0 206.9C681.2 206.2 685.4 205.5 689.6 204.9C693.8 204.3 698.3 203.8 702.2 203.3C706.1 202.8 710.1 202.3 713.2 201.7C716.4 201.1 718.5 200.1 721.1 199.7C723.7 199.3 726.4 199.6 729.0 199.4C731.6 199.2 734.3 198.7 736.9 198.6C739.5 198.5 742.4 198.8 744.7 199.0C747.0 199.2 747.4 199.6 750.6 199.5C753.8 199.4 759.9 198.6 763.9 198.7C767.9 198.8 770.5 200.0 774.5 200.0C778.5 200.0 782.5 198.8 787.8 198.9C793.1 199.0 799.8 200.0 806.4 200.5C813.0 201.0 820.1 201.8 827.6 202.1C835.1 202.4 843.2 202.4 851.6 202.6C860.0 202.8 869.2 203.0 878.1 203.2C887.0 203.4 895.9 203.6 904.7 203.7C913.6 203.8 923.2 203.9 931.2 204.0C939.2 204.1 945.5 204.0 952.5 204.2C959.5 204.4 969.8 204.9 973.2 205.0" fill="none" stroke="#141414" stroke-width="1.95" stroke-linejoin="round" stroke-linecap="round"/>
<path d="M606.0 329.6C606.3 327.7 606.9 327.0 607.6 318.3C608.3 309.6 609.2 284.9 610.0 277.3C610.8 269.7 611.1 273.9 612.3 272.6C613.5 271.3 615.2 270.5 617.1 269.7C619.0 268.9 621.0 268.6 623.4 267.8C625.8 267.0 628.1 265.5 631.3 264.7C634.4 263.9 638.9 263.3 642.3 262.8C645.7 262.3 649.9 261.6 651.7 261.5C653.5 261.4 652.2 262.4 653.3 262.3C654.4 262.2 656.6 261.0 658.1 260.7C659.6 260.4 661.1 260.6 662.0 260.3C662.9 260.1 663.0 259.1 663.6 259.2C664.2 259.3 665.1 260.7 665.9 260.7C666.7 260.7 667.5 259.3 668.3 259.2C669.1 259.1 669.8 259.8 670.7 259.9C671.6 260.0 672.8 259.5 673.8 259.6C674.8 259.7 676.0 260.1 677.0 260.3C678.0 260.5 679.2 260.9 680.1 260.7C681.0 260.4 681.6 258.9 682.5 258.8C683.4 258.7 684.6 259.9 685.6 260.3C686.6 260.8 687.6 261.6 688.8 261.5C690.0 261.4 691.2 259.8 692.7 259.6C694.2 259.4 696.3 260.0 697.5 260.3C698.7 260.6 699.0 261.6 699.8 261.5C700.6 261.4 701.3 260.0 702.2 259.9C703.1 259.8 704.2 260.7 705.3 260.7C706.3 260.7 706.6 259.9 708.5 259.9C710.4 259.9 713.8 260.6 716.4 260.7C719.0 260.8 721.7 260.5 724.3 260.3C726.9 260.1 729.5 259.8 732.1 259.6C734.7 259.4 737.4 259.4 740.0 259.1C742.6 258.8 744.9 257.7 748.0 257.6C751.1 257.5 755.1 258.2 758.6 258.4C762.1 258.6 765.7 258.7 769.2 258.9C772.7 259.1 776.2 259.9 779.8 259.7C783.3 259.5 787.0 257.9 790.5 257.6C794.0 257.3 797.6 258.1 801.1 258.1C804.6 258.1 807.7 257.6 811.7 257.6C815.7 257.7 820.6 258.2 825.0 258.4C829.4 258.6 834.3 258.4 838.3 258.6C842.3 258.8 845.4 259.5 848.9 259.7C852.4 259.9 855.5 259.9 859.5 259.7C863.5 259.5 868.8 258.7 872.8 258.6C876.8 258.5 879.0 259.2 883.4 259.1C887.8 259.0 894.5 258.4 899.4 258.1C904.3 257.9 908.2 257.7 912.6 257.6C917.0 257.5 921.0 257.7 925.9 257.6C930.8 257.5 937.0 257.1 941.9 257.0C946.8 256.9 950.7 257.2 955.1 257.3C959.5 257.4 966.2 257.7 968.4 257.8" fill="none" stroke="#141414" stroke-width="1.95" stroke-linejoin="round" stroke-linecap="round"/>
<text transform="translate(927.0 67.7) scale(0.940 1)" font-size="24.0">1s<tspan dy="-12.6" dx="0.6" font-size="13.2">-1</tspan></text>
<text transform="translate(918.6 126.1) scale(0.940 1)" font-size="24.0">0.1s<tspan dy="-12.6" dx="0.6" font-size="13.2">-1</tspan></text>
<text transform="translate(920.4 193.3) scale(0.940 1)" font-size="24.0">0.01s<tspan dy="-12.6" dx="0.6" font-size="13.2">-1</tspan></text>
<text transform="translate(916.7 250.4) scale(0.940 1)" font-size="24.0">0.001s<tspan dy="-12.6" dx="0.6" font-size="13.2">-1</tspan></text>
<path d="M97.3 702.8C97.1 702.1 95.7 707.3 96.3 698.8C96.9 690.2 99.8 664.6 100.8 651.5C101.8 638.4 102.0 628.4 102.3 620.0C102.5 611.6 102.0 610.6 102.3 600.9C102.6 591.1 103.3 573.3 103.9 561.5C104.5 549.7 105.3 540.5 105.8 530.0C106.3 519.5 106.6 509.8 107.1 498.8C107.6 487.8 107.9 472.8 108.6 464.1C109.2 455.4 110.3 451.2 111.0 446.8C111.7 442.4 112.3 439.1 113.0 437.6C113.7 436.1 114.6 437.1 115.3 437.9C116.0 438.6 116.4 441.1 117.3 442.1C118.2 443.1 118.0 443.7 120.5 444.1C123.0 444.5 127.7 444.2 132.3 444.4C136.9 444.6 142.8 445.0 148.1 445.2C153.3 445.4 158.6 445.6 163.8 445.7C169.1 445.8 174.3 445.9 179.6 446.0C184.8 446.1 190.1 446.3 195.3 446.5C200.6 446.7 205.8 446.8 211.1 447.1C216.4 447.4 223.4 448.0 226.9 448.1C230.4 448.2 229.4 447.9 232.0 447.9C234.6 447.9 238.2 447.9 242.6 448.2C247.0 448.5 254.2 449.1 258.6 449.7C263.0 450.3 266.3 451.2 269.2 451.9C272.1 452.6 272.3 453.6 275.8 454.0C279.3 454.4 285.8 453.8 290.4 454.5C295.0 455.2 299.3 457.7 303.7 458.5C308.1 459.3 312.6 458.4 317.0 459.3C321.4 460.2 325.9 462.9 330.3 463.8C334.7 464.7 339.2 463.9 343.6 464.6C348.0 465.4 352.4 467.4 356.8 468.3C361.2 469.2 365.7 469.2 370.1 469.9C374.5 470.6 379.8 471.8 383.4 472.3C386.9 472.8 388.3 473.3 391.4 473.1C394.5 472.9 398.5 471.3 402.0 471.0C405.5 470.7 409.1 471.4 412.6 471.5C416.1 471.6 420.1 471.7 423.2 471.3C426.3 470.9 428.8 469.8 431.2 469.4C433.6 468.9 436.7 468.7 437.8 468.6" fill="none" stroke="#141414" stroke-width="2.00" stroke-linejoin="round" stroke-linecap="round"/>
<path d="M97.9 702.8C98.5 696.9 100.7 680.3 101.6 667.3C102.5 654.3 102.4 637.0 103.1 624.6C103.8 612.2 104.6 603.6 105.5 593.1C106.4 582.6 107.5 570.4 108.6 561.5C109.6 552.6 111.0 544.4 111.8 539.5C112.6 534.6 112.8 533.9 113.4 531.9C114.1 529.9 114.9 528.1 115.7 527.2C116.5 526.3 116.9 526.2 118.1 526.4C119.3 526.6 121.1 528.3 122.8 528.4C124.5 528.5 126.5 528.1 128.3 527.2C130.2 526.3 132.5 524.0 133.9 523.2C135.3 522.4 135.4 523.3 137.0 522.5C138.6 521.7 141.1 519.8 143.3 518.5C145.5 517.2 147.8 515.8 150.4 514.6C153.0 513.4 156.1 512.1 159.1 511.4C162.1 510.7 165.3 510.6 168.5 510.2C171.7 509.8 175.4 509.6 178.0 509.1C180.6 508.6 182.6 507.2 184.3 507.0C186.0 506.8 186.9 508.1 188.2 508.0C189.5 507.9 190.5 506.4 192.2 506.4C193.9 506.4 196.4 508.0 198.5 508.0C200.6 508.0 202.7 506.6 204.8 506.4C206.9 506.2 208.7 506.8 211.1 506.7C213.5 506.6 216.9 506.0 219.0 505.9C221.1 505.8 221.5 505.8 223.7 505.9C225.9 506.0 229.5 506.4 232.0 506.3C234.5 506.2 235.9 505.3 238.6 505.3C241.2 505.3 243.7 505.9 247.9 506.1C252.1 506.3 258.6 506.1 263.9 506.3C269.2 506.6 274.1 506.9 279.8 507.6C285.6 508.3 293.1 509.9 298.4 510.3C303.7 510.7 307.3 509.7 311.7 509.8C316.1 509.9 320.6 510.7 325.0 511.1C329.4 511.5 332.9 512.2 338.2 512.4C343.5 512.6 352.8 512.2 356.8 512.4C360.8 512.6 359.0 513.7 362.1 513.8C365.2 513.9 370.5 513.0 375.4 513.0C380.3 513.0 386.1 513.8 391.4 514.0C396.7 514.2 402.4 514.2 407.3 514.3C412.2 514.4 416.2 514.6 420.6 514.6C425.0 514.6 429.9 514.2 433.9 514.0C437.9 513.8 440.9 513.7 444.5 513.5C448.1 513.3 453.8 513.1 455.6 513.0" fill="none" stroke="#141414" stroke-width="2.00" stroke-linejoin="round" stroke-linecap="round"/>
<path d="M97.5 702.8C98.0 696.5 99.6 677.0 100.5 665.0C101.4 653.0 102.3 638.4 103.1 630.9C103.9 623.4 104.6 622.8 105.5 619.8C106.4 616.8 107.3 614.8 108.6 612.8C109.9 610.8 111.6 609.2 113.4 608.0C115.2 606.8 117.1 606.1 119.7 605.3C122.3 604.5 126.2 603.8 129.1 603.3C132.0 602.8 135.0 602.1 137.0 602.2C139.0 602.3 139.8 604.0 141.0 603.8C142.2 603.6 143.0 601.1 144.1 600.9C145.2 600.7 146.1 602.6 147.3 602.5C148.5 602.4 149.8 600.4 151.2 600.1C152.6 599.8 154.3 600.9 155.9 600.6C157.5 600.3 158.8 598.6 160.7 598.1C162.5 597.6 165.3 597.7 167.0 597.8C168.7 597.9 169.7 599.0 170.9 598.6C172.1 598.2 172.7 595.9 174.1 595.4C175.5 594.9 178.0 596.1 179.6 595.9C181.2 595.7 182.2 594.2 183.5 594.3C184.8 594.3 185.8 596.1 187.5 596.2C189.2 596.3 192.0 595.0 193.8 594.9C195.6 594.8 196.7 595.5 198.5 595.4C200.3 595.3 202.7 594.4 204.8 594.3C206.9 594.2 209.3 594.3 211.1 594.6C212.9 594.9 214.2 596.0 215.8 595.9C217.4 595.8 218.8 594.2 220.6 593.8C222.4 593.4 225.0 593.4 226.9 593.4C228.8 593.4 229.4 594.0 232.0 594.0C234.6 594.0 239.5 593.7 242.6 593.2C245.7 592.8 247.9 591.4 250.6 591.3C253.3 591.2 255.1 592.7 258.6 592.6C262.1 592.5 267.4 590.9 271.8 590.5C276.2 590.1 280.2 590.4 285.1 590.5C290.0 590.6 295.8 591.3 301.1 591.3C306.4 591.3 311.2 590.4 317.0 590.5C322.8 590.6 330.3 592.1 335.6 592.1C340.9 592.1 344.0 590.6 348.9 590.5C353.8 590.4 359.9 591.5 364.8 591.3C369.7 591.1 374.1 589.6 378.1 589.5C382.1 589.4 384.7 590.4 388.7 590.5C392.7 590.6 398.4 590.4 402.0 590.0C405.6 589.6 407.4 588.5 410.0 588.4C412.6 588.3 415.2 589.5 417.9 589.5C420.5 589.5 422.3 588.2 425.9 588.1C429.4 588.0 434.8 588.9 439.2 588.9C443.6 588.9 448.1 588.4 452.5 588.4C456.9 588.4 463.5 588.7 465.7 588.7" fill="none" stroke="#141414" stroke-width="2.00" stroke-linejoin="round" stroke-linecap="round"/>
<path d="M97.6 702.8C97.9 699.8 99.0 690.1 99.5 685.0C100.0 679.9 100.3 675.7 100.8 672.0C101.3 668.3 101.6 665.2 102.3 662.6C103.0 660.0 103.7 657.9 104.7 656.3C105.8 654.7 106.9 654.0 108.6 653.1C110.3 652.2 112.5 651.4 114.9 650.7C117.3 650.1 119.4 649.6 122.8 649.2C126.2 648.8 131.2 648.3 135.4 648.1C139.6 647.9 143.9 648.3 148.1 648.1C152.3 647.9 156.5 647.1 160.7 647.1C164.9 647.1 169.1 648.2 173.3 648.1C177.5 648.0 181.7 647.1 185.9 646.8C190.1 646.4 194.3 646.2 198.5 646.0C202.7 645.8 206.9 645.7 211.1 645.5C215.3 645.3 220.2 644.9 223.7 644.9C227.2 644.9 228.8 645.4 232.0 645.3C235.2 645.2 238.2 644.8 242.6 644.5C247.0 644.2 254.2 643.8 258.6 643.5C263.0 643.2 266.6 643.2 269.2 642.7C271.8 642.2 271.9 640.9 274.5 640.8C277.1 640.7 280.7 641.9 285.1 641.9C289.5 641.9 295.8 641.1 301.1 640.8C306.4 640.5 311.7 640.0 317.0 640.0C322.3 640.0 327.6 640.5 332.9 640.5C338.2 640.5 343.6 639.9 348.9 639.7C354.2 639.5 359.5 639.5 364.8 639.5C370.1 639.5 376.3 640.0 380.7 640.0C385.1 640.0 387.0 639.3 391.4 639.2C395.8 639.1 402.0 639.5 407.3 639.5C412.6 639.5 417.9 639.5 423.2 639.5C428.5 639.5 434.3 639.7 439.2 639.7C444.1 639.7 448.1 639.6 452.5 639.5C456.9 639.4 463.5 639.2 465.7 639.2" fill="none" stroke="#141414" stroke-width="2.00" stroke-linejoin="round" stroke-linecap="round"/>
<text transform="translate(426.4 455.9) scale(0.940 1)" font-size="24.0">1s<tspan dy="-12.6" dx="0.6" font-size="13.2">-1</tspan></text>
<text transform="translate(415.9 505.8) scale(0.940 1)" font-size="24.0">0.1s<tspan dy="-12.6" dx="0.6" font-size="13.2">-1</tspan></text>
<text transform="translate(420.4 578.6) scale(0.940 1)" font-size="24.0">0.01s<tspan dy="-12.6" dx="0.6" font-size="13.2">-1</tspan></text>
<text transform="translate(413.2 632.6) scale(0.940 1)" font-size="24.0">0.001s<tspan dy="-12.6" dx="0.6" font-size="13.2">-1</tspan></text>
<path d="M605.2 703.3C605.5 699.1 606.1 687.5 606.8 678.0C607.5 668.5 608.7 655.4 609.2 646.5C609.7 637.6 609.6 632.6 610.0 624.8C610.4 617.0 611.1 609.1 611.6 599.6C612.1 590.1 612.3 578.5 612.7 568.0C613.1 557.5 613.5 547.0 613.9 536.5C614.3 526.0 614.6 515.5 615.0 505.0C615.4 494.6 615.8 485.3 616.3 473.8C616.8 462.3 617.2 445.7 617.9 436.0C618.5 426.3 619.3 420.6 620.2 415.5C621.1 410.4 622.2 406.2 623.1 405.7C624.0 405.2 624.8 410.3 625.7 412.3C626.6 414.3 627.4 418.3 628.4 417.9C629.4 417.5 630.7 411.9 631.6 410.0C632.5 408.1 633.2 406.0 633.9 406.3C634.6 406.6 634.9 410.9 636.0 412.0C637.1 413.1 639.1 412.6 640.7 413.1C642.3 413.6 644.0 414.4 645.4 415.2C646.8 416.0 647.3 417.3 649.4 417.9C651.5 418.5 655.1 418.4 658.1 418.6C661.1 418.8 663.8 418.7 667.5 419.0C671.2 419.3 675.9 420.2 680.1 420.5C684.3 420.8 688.5 420.7 692.7 421.0C696.9 421.3 701.1 421.8 705.3 422.1C709.5 422.5 713.8 422.7 718.0 423.1C722.2 423.5 726.4 424.2 730.6 424.6C734.8 425.0 739.4 425.3 743.2 425.7C747.0 426.1 749.4 426.5 753.3 426.9C757.2 427.3 762.6 427.8 766.6 428.2C770.6 428.6 774.1 428.4 777.2 429.0C780.3 429.6 781.2 431.1 785.2 431.7C789.2 432.3 796.7 432.0 801.1 432.7C805.5 433.4 807.3 435.0 811.7 435.6C816.1 436.2 822.7 435.7 827.6 436.4C832.5 437.1 836.5 439.0 840.9 439.6C845.3 440.2 850.0 439.4 854.2 440.2C858.4 440.9 861.8 443.3 866.2 444.1C870.6 444.9 876.2 444.3 880.8 444.9C885.4 445.5 889.1 447.0 894.0 447.6C898.9 448.2 904.7 448.4 910.0 448.7C915.3 449.0 921.5 449.4 925.9 449.7C930.3 449.9 933.5 450.1 936.5 450.2C939.5 450.3 942.8 450.2 944.0 450.2" fill="none" stroke="#141414" stroke-width="1.95" stroke-linejoin="round" stroke-linecap="round"/>
<path d="M605.4 703.3C605.7 699.1 606.4 687.5 607.1 678.0C607.8 668.5 608.7 659.0 609.5 646.5C610.3 634.0 611.3 611.1 612.0 602.7C612.7 594.4 612.8 597.6 613.6 596.4C614.5 595.2 614.2 595.5 617.1 595.3C620.0 595.1 627.6 595.5 631.3 595.2C635.0 594.9 636.2 593.9 639.1 593.3C642.0 592.7 645.4 592.2 648.6 591.4C651.8 590.6 654.7 589.5 658.1 588.5C661.5 587.5 665.2 586.5 669.1 585.7C673.0 584.9 677.5 584.2 681.7 583.5C685.9 582.8 689.8 582.0 694.3 581.4C698.8 580.8 704.0 580.1 708.5 579.6C713.0 579.1 716.9 578.7 721.1 578.3C725.3 577.9 730.6 577.4 733.7 577.2C736.9 577.0 736.7 577.3 740.0 577.0C743.3 576.7 748.9 576.2 753.3 575.6C757.7 575.0 761.7 574.1 766.6 573.5C771.5 572.9 776.3 572.6 782.5 572.2C788.7 571.8 795.7 571.4 803.7 571.1C811.7 570.8 821.4 570.7 830.3 570.6C839.2 570.5 848.0 570.3 856.9 570.3C865.8 570.2 874.5 570.3 883.4 570.3C892.2 570.2 901.1 570.1 910.0 570.0C918.9 569.9 928.5 569.9 936.5 569.8C944.5 569.7 952.0 569.6 957.8 569.5C963.6 569.4 968.0 569.4 971.1 569.2C974.2 569.0 975.5 568.5 976.4 568.4" fill="none" stroke="#141414" stroke-width="1.95" stroke-linejoin="round" stroke-linecap="round"/>
<path d="M605.0 703.3C605.3 699.1 606.0 685.4 606.6 678.0C607.2 670.6 608.2 663.2 608.9 659.1C609.6 655.0 610.0 654.9 610.8 653.6C611.6 652.3 612.3 651.9 613.9 651.3C615.5 650.6 617.6 650.2 620.2 649.7C622.8 649.2 626.6 648.6 629.7 648.1C632.9 647.6 636.5 646.6 639.1 646.5C641.7 646.4 642.2 647.3 645.4 647.3C648.6 647.2 654.1 646.5 658.1 646.2C662.1 645.9 665.4 645.5 669.1 645.3C672.8 645.1 677.5 644.8 680.1 644.9C682.7 645.0 683.2 646.1 684.8 646.1C686.4 646.1 686.7 645.1 689.6 644.9C692.5 644.7 698.0 644.8 702.2 644.9C706.4 645.0 711.1 645.3 714.8 645.3C718.5 645.3 721.1 645.1 724.3 644.9C727.4 644.7 731.1 644.2 733.7 644.2C736.3 644.2 737.2 644.9 740.0 644.8C742.8 644.7 747.1 643.6 750.6 643.5C754.1 643.4 757.2 644.0 761.2 644.0C765.2 644.0 771.0 643.9 774.5 643.5C778.0 643.1 778.5 642.3 782.5 641.9C786.5 641.5 793.1 641.5 798.4 641.3C803.7 641.1 809.1 641.1 814.4 640.8C819.7 640.5 825.0 639.7 830.3 639.7C835.6 639.7 841.8 640.8 846.2 640.8C850.6 640.8 852.9 640.0 856.9 640.0C860.9 640.0 865.7 640.5 870.1 640.8C874.5 641.1 879.4 641.7 883.4 641.9C887.4 642.1 890.5 642.2 894.0 641.9C897.5 641.6 902.0 640.1 904.7 640.0C907.4 639.9 907.4 641.2 910.0 641.3C912.6 641.4 917.1 641.0 920.6 640.8C924.1 640.6 928.1 640.1 931.2 640.0C934.3 639.9 937.2 640.5 939.2 640.3C941.2 640.1 941.4 638.8 943.2 638.7C945.0 638.7 946.9 639.7 949.8 640.0C952.7 640.3 957.8 640.5 960.5 640.3C963.2 640.1 964.4 638.6 965.8 638.7C967.2 638.8 967.9 640.7 969.0 640.8C970.1 640.9 971.8 639.7 972.4 639.5" fill="none" stroke="#141414" stroke-width="1.95" stroke-linejoin="round" stroke-linecap="round"/>
<polyline points="605.4,704.0 607.0,678.0 609.3,646.5 611.4,616.0" fill="none" stroke="#141414" stroke-width="3.00" stroke-linejoin="round" stroke-linecap="round" />
<path d="M605.6 703.3C605.9 699.1 606.7 687.5 607.4 678.0C608.1 668.5 609.2 655.4 609.8 646.5C610.4 637.6 610.2 633.1 610.8 624.8C611.3 616.4 612.5 605.9 613.1 596.4C613.8 586.9 614.3 574.3 614.7 568.0C615.1 561.7 614.9 560.2 615.5 558.6C616.1 557.0 617.7 559.6 618.6 558.3C619.5 557.0 620.1 553.8 621.0 550.7C621.9 547.6 623.0 543.0 624.2 539.7C625.4 536.4 626.4 533.4 628.1 531.0C629.8 528.6 632.0 527.3 634.4 525.5C636.8 523.7 639.7 522.0 642.3 520.0C644.9 518.0 648.2 515.4 650.2 513.7C652.2 512.1 652.5 511.4 654.1 510.1C655.7 508.8 657.9 507.4 659.6 506.1C661.3 504.8 662.8 503.2 664.4 502.2C666.0 501.1 667.5 500.3 669.1 499.8C670.7 499.3 672.5 499.7 673.8 499.4C675.1 499.1 675.8 498.4 677.0 498.2C678.2 498.0 679.6 498.3 680.9 498.2C682.2 498.1 683.3 497.8 684.8 497.5C686.2 497.2 688.0 496.6 689.6 496.2C691.2 495.8 692.7 495.5 694.3 495.1C695.9 494.7 697.4 494.3 699.0 494.0C700.6 493.7 702.2 493.8 703.8 493.5C705.4 493.2 706.9 492.6 708.5 492.4C710.1 492.2 711.6 492.6 713.2 492.4C714.8 492.2 716.4 491.5 718.0 491.2C719.6 490.9 721.4 491.1 722.7 490.8C724.0 490.5 724.8 489.7 725.8 489.6C726.8 489.5 728.0 490.4 729.0 490.4C730.0 490.3 731.1 489.4 732.1 489.3C733.1 489.2 734.1 489.9 735.3 489.6C736.5 489.3 738.6 488.0 739.2 487.7" fill="none" stroke="#141414" stroke-width="1.95" stroke-linejoin="round" stroke-linecap="round"/>
<polyline points="739.2,488.9 742.2,487.7 745.1,488.6 748.1,487.3 751.0,488.3 754.0,486.9 756.9,488.0 759.9,486.6 762.8,487.7 765.8,486.3 768.7,487.5 771.7,486.0 774.6,487.3 777.6,486.0 780.5,487.6 783.5,486.2 786.4,487.9 789.4,486.4 792.3,488.2 795.3,486.7 798.2,488.7 801.2,487.0 804.1,489.1 807.1,487.3 810.0,489.6 813.0,487.7 815.9,490.2 818.9,488.2 821.8,490.8 824.8,488.6 827.7,491.4 830.7,489.1 833.6,492.1 836.6,489.5 839.5,492.8 842.5,489.9 845.4,493.5 848.4,490.3 851.3,494.1 854.3,490.6 857.2,494.7 860.2,491.0 863.1,495.2 866.1,491.4 869.0,495.5 872.0,491.7 874.9,495.8 877.9,492.0 880.8,496.2 883.8,492.3 886.7,496.5 889.7,492.7 892.6,496.9 895.6,493.1 898.5,497.3 901.5,493.2 904.4,496.7 907.4,492.6 910.3,495.9 913.3,492.0 916.2,495.2 919.2,491.6 922.1,494.6 925.1,491.2 928.0,494.2 931.0,491.1 933.9,493.9 936.9,491.0 939.8,493.6 942.8,490.9 945.7,493.4 948.7,491.0 951.6,493.3 954.6,491.1 957.5,493.2 960.5,491.0 963.4,492.7 966.4,490.6 969.3,492.1" fill="none" stroke="#141414" stroke-width="1.95" stroke-linejoin="round" stroke-linecap="round" />
<text transform="translate(923.8 434.8) scale(0.940 1)" font-size="24.0">1s<tspan dy="-12.6" dx="0.6" font-size="13.2">-1</tspan></text>
<text transform="translate(927.3 484.8) scale(0.940 1)" font-size="24.0">0.1s<tspan dy="-12.6" dx="0.6" font-size="13.2">-1</tspan></text>
<text transform="translate(922.0 557.5) scale(0.940 1)" font-size="24.0">0.01s<tspan dy="-12.6" dx="0.6" font-size="13.2">-1</tspan></text>
<text transform="translate(921.2 630.2) scale(0.940 1)" font-size="24.0">0.001s<tspan dy="-12.6" dx="0.6" font-size="13.2">-1</tspan></text>
</svg>
</body></html>
